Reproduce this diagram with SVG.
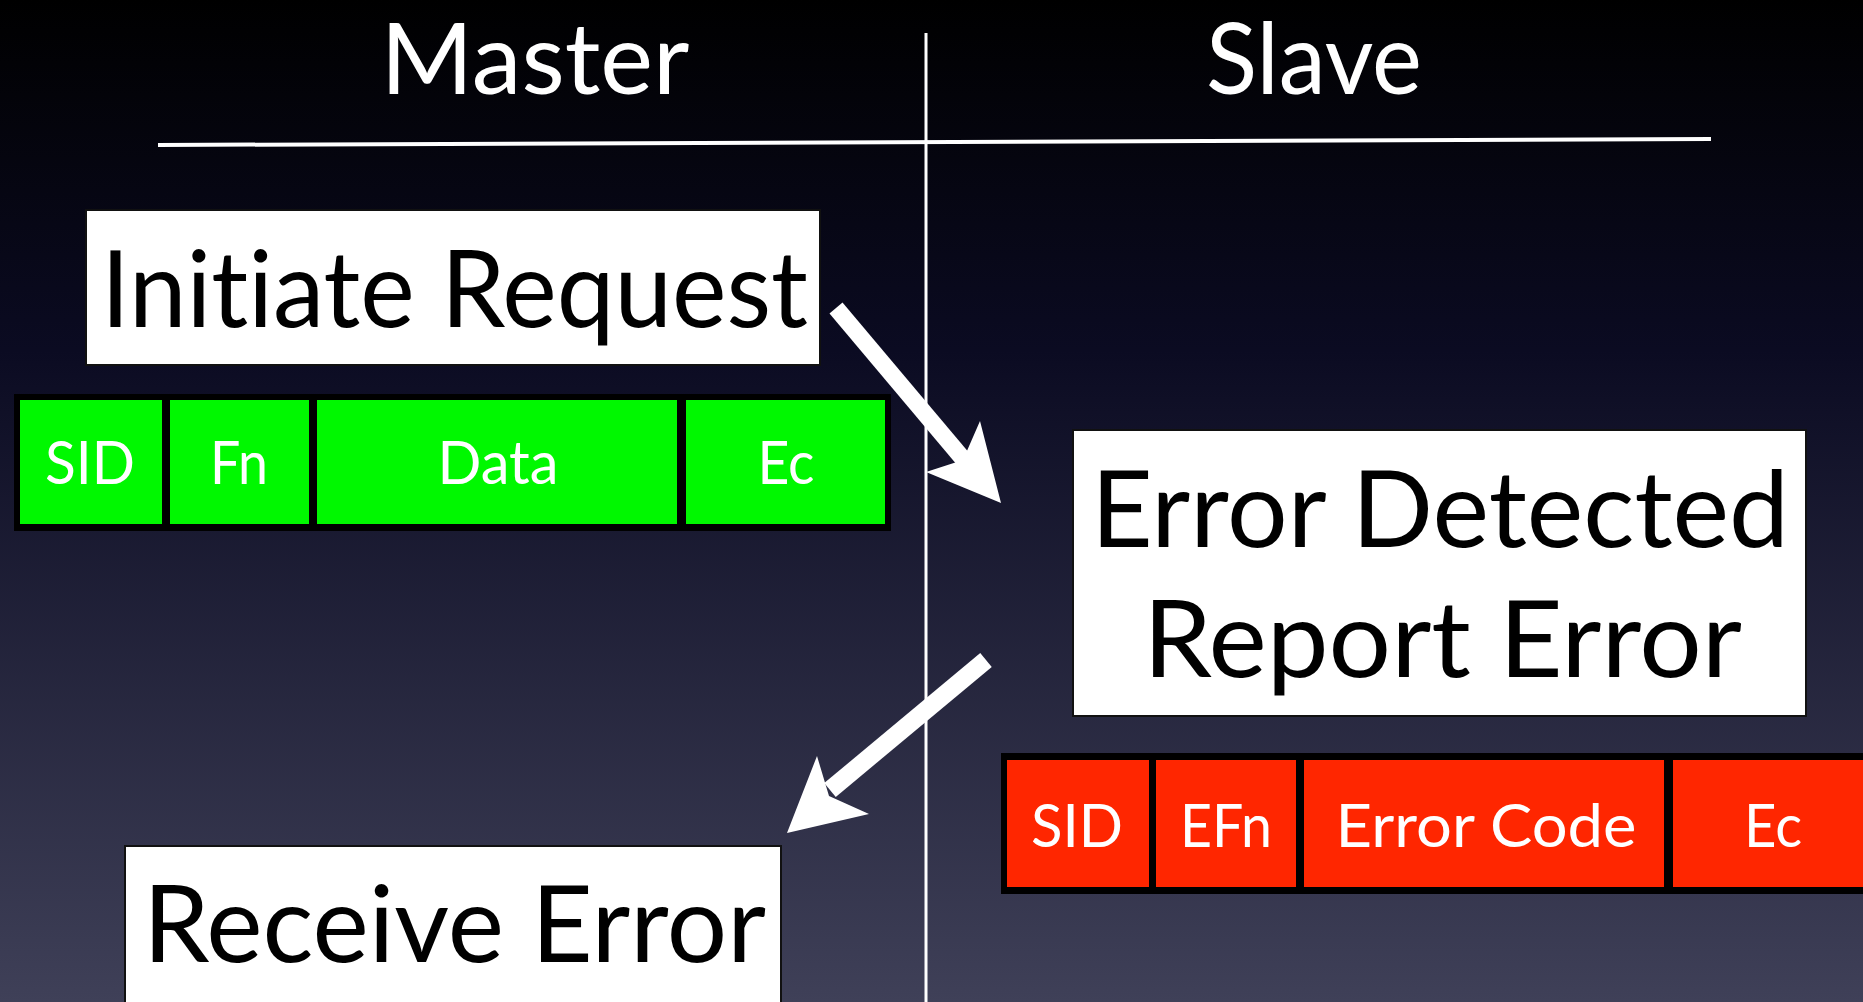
<svg xmlns="http://www.w3.org/2000/svg" width="1863" height="1002" viewBox="0 0 1863 1002">
<defs>
<linearGradient id="bg" x1="0" y1="0" x2="0" y2="1">
<stop offset="0" stop-color="#000000"/>
<stop offset="0.35" stop-color="#0b0b22"/>
<stop offset="1" stop-color="#3f4058"/>
</linearGradient>
<style>
.hdr{font-family:Lato,"Open Sans","Liberation Sans",sans-serif;font-size:98px;fill:#fff;text-anchor:middle}
.big{font-family:Lato,"Open Sans","Liberation Sans",sans-serif;font-size:106px;fill:#000;font-variant-ligatures:none}
.cell{font-family:Lato,"Open Sans","Liberation Sans",sans-serif;font-size:60px;fill:#fff;text-anchor:middle}
.box{fill:#fff;stroke:#111;stroke-width:2}
.g{fill:#00f800}
.r{fill:#ff2600}
.shaft{stroke:#fff;fill:none}
.head{fill:#fff}
</style>
</defs>
<rect width="1863" height="1002" fill="url(#bg)"/>
<g id="headers">
<text class="hdr" x="535" y="94" textLength="309" lengthAdjust="spacingAndGlyphs">Master</text>
<text class="hdr" x="1314" y="94" textLength="216" lengthAdjust="spacingAndGlyphs">Slave</text>
<line x1="158" y1="145" x2="1711" y2="139" stroke="#fff" stroke-width="4"/>
<line x1="926" y1="33" x2="926" y2="1002" stroke="#fff" stroke-width="3"/>
</g>
<g id="initiate">
<rect class="box" x="86" y="210" width="734" height="155"/>
<text class="big" x="101" y="327" textLength="707" lengthAdjust="spacingAndGlyphs">Initiate Request</text>
</g>
<g id="request-frame">
<rect x="14" y="394" width="877" height="137" fill="#000"/>
<rect class="g" x="20" y="400" width="142" height="124"/>
<rect class="g" x="170" y="400" width="139" height="124"/>
<rect class="g" x="317" y="400" width="360" height="124"/>
<rect class="g" x="686" y="400" width="199" height="124"/>
<text class="cell" x="90" y="484" textLength="90" lengthAdjust="spacingAndGlyphs">SID</text>
<text class="cell" x="239" y="484" textLength="58" lengthAdjust="spacingAndGlyphs">Fn</text>
<text class="cell" x="498" y="484" textLength="121" lengthAdjust="spacingAndGlyphs">Data</text>
<text class="cell" x="786" y="484" textLength="57" lengthAdjust="spacingAndGlyphs">Ec</text>
</g>
<g id="error-detected">
<rect class="box" x="1073" y="430" width="733" height="286"/>
<text class="big" x="1091" y="547" textLength="698" lengthAdjust="spacingAndGlyphs">Error Detected</text>
<text class="big" x="1143" y="677" textLength="599" lengthAdjust="spacingAndGlyphs">Report Error</text>
</g>
<g id="error-frame">
<rect x="1001" y="753" width="870" height="141" fill="#000"/>
<rect class="r" x="1007" y="760" width="142" height="127"/>
<rect class="r" x="1156" y="760" width="140" height="127"/>
<rect class="r" x="1304" y="760" width="360" height="127"/>
<rect class="r" x="1673" y="760" width="200" height="127"/>
<text class="cell" x="1077" y="847" textLength="92" lengthAdjust="spacingAndGlyphs">SID</text>
<text class="cell" x="1226" y="847" textLength="92" lengthAdjust="spacingAndGlyphs">EFn</text>
<text class="cell" x="1486" y="847" textLength="301" lengthAdjust="spacingAndGlyphs">Error Code</text>
<text class="cell" x="1773" y="847" textLength="58" lengthAdjust="spacingAndGlyphs">Ec</text>
</g>
<g id="receive">
<rect class="box" x="125" y="846" width="656" height="170"/>
<text class="big" x="143" y="962" textLength="623" lengthAdjust="spacingAndGlyphs">Receive Error</text>
</g>
<g id="connectors">
<line class="shaft" x1="836" y1="308" x2="964" y2="460" stroke-width="17"/>
<polygon class="head" points="1001,503 980,421 963,460 926,472"/>
<line class="shaft" x1="986" y1="660" x2="830" y2="790" stroke-width="18"/>
<polygon class="head" points="787,833 817,756 829,796 869,814"/>
</g>
</svg>
